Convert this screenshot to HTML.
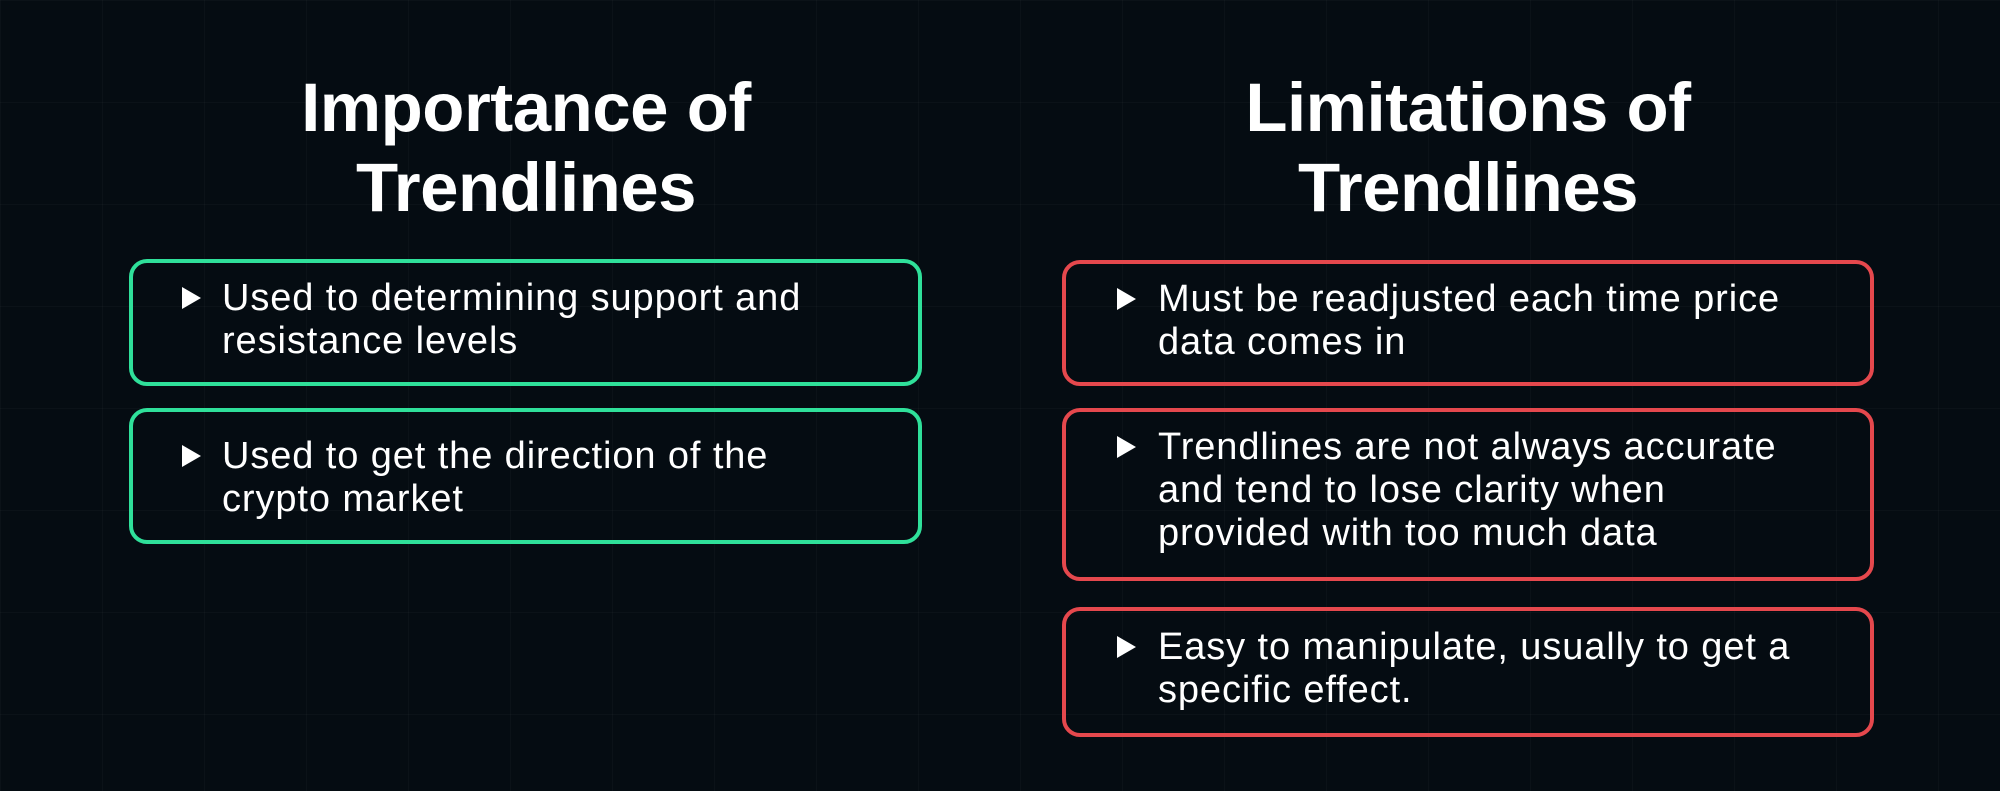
<!DOCTYPE html>
<html><head><meta charset="utf-8"><style>
body{margin:0;width:2000px;height:791px;background:#050c12;position:relative;overflow:hidden;font-family:"Liberation Sans",sans-serif;color:#fff;
background-image:linear-gradient(rgba(255,255,255,0.025) 1px,transparent 1px),linear-gradient(90deg,rgba(255,255,255,0.025) 1px,transparent 1px);background-size:102px 102px;}
.t{position:absolute;width:800px;text-align:center;font-weight:bold;font-size:69px;line-height:80px;letter-spacing:-0.5px}
.b{position:absolute;border:4px solid;border-radius:18px;box-sizing:border-box}
.g{border-color:#2fe09a}.r{border-color:#e5484d}
.x{position:absolute;font-size:38px;line-height:43px;letter-spacing:0.9px;white-space:nowrap}
.tri{position:absolute;width:0;height:0;border-left:19px solid #fff;border-top:11px solid transparent;border-bottom:11px solid transparent}
</style></head><body>
<div class="t" style="left:126px;top:68px">Importance of<br>Trendlines</div>
<div class="t" style="left:1068px;top:68px">Limitations of<br>Trendlines</div>

<div class="b g" style="left:129px;top:259px;width:793px;height:127px"></div>
<div class="b g" style="left:129px;top:408px;width:793px;height:136px"></div>
<div class="b r" style="left:1062px;top:260px;width:812px;height:126px"></div>
<div class="b r" style="left:1062px;top:408px;width:812px;height:173px"></div>
<div class="b r" style="left:1062px;top:607px;width:812px;height:130px"></div>

<div class="tri" style="left:182px;top:287px"></div>
<div class="x" style="left:222px;top:277px">Used to determining support and<br>resistance levels</div>
<div class="tri" style="left:182px;top:445px"></div>
<div class="x" style="left:222px;top:435px">Used to get the direction of the<br>crypto market</div>

<div class="tri" style="left:1117px;top:288px"></div>
<div class="x" style="left:1158px;top:278px">Must be readjusted each time price<br>data comes in</div>
<div class="tri" style="left:1117px;top:436px"></div>
<div class="x" style="left:1158px;top:426px">Trendlines are not always accurate<br>and tend to lose clarity when<br>provided with too much data</div>
<div class="tri" style="left:1117px;top:636px"></div>
<div class="x" style="left:1158px;top:626px">Easy to manipulate, usually to get a<br>specific effect.</div>
</body></html>
